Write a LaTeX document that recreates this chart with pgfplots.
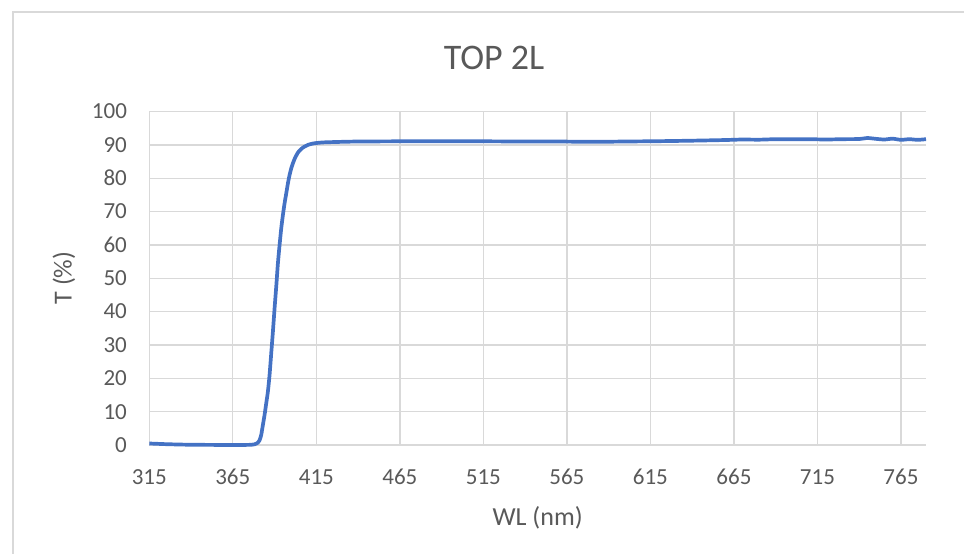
\documentclass[border=0pt]{standalone}
\usepackage{fontspec}
\setmainfont{Carlito}
\usepackage{pgfplots}
\pgfplotsset{compat=1.18}
\definecolor{gridgray}{HTML}{D9D9D9}
\definecolor{txtgray}{HTML}{595959}
\definecolor{lineblue}{HTML}{4472C4}

\begin{document}
\begin{tikzpicture}
  \useasboundingbox (0,0) rectangle (482pt,276.5pt);
  % chart area frame (cut off at right and bottom)
  \draw[gridgray, line width=0.75pt] (6.5pt,-20pt) -- (6.5pt,270.5pt) -- (520pt,270.5pt);

  \begin{axis}[
    at={(74.65pt,54pt)}, anchor=south west,
    scale only axis,
    width=388.35pt, height=166.75pt,
    xmin=315, xmax=780, ymin=0, ymax=100,
    xtick={315,365,...,765},
    ytick={0,10,...,100},
    grid=major,
    major grid style={gridgray, line width=0.65pt},
    axis line style={draw=none},
    major tick length=0pt,
    tick label style={font=\fontsize{11.5}{13}\selectfont, text=txtgray, inner sep=0pt},
    xticklabel style={anchor=center, yshift=-16pt},
    yticklabel style={anchor=east, xshift=-11pt},
    /pgf/number format/assume math mode=true,
    /pgf/number format/1000 sep={},
    clip=false,
  ]
  \addplot[lineblue, line width=1.85pt, smooth, tension=0.4] coordinates {
    (315,0.45) (320,0.35) (325,0.25) (330,0.18) (335,0.12) (340,0.08)
    (350,0.04) (360,0.02) (370,0.02) (375,0.05) (378,0.2) (380,0.7)
    (381,1.4) (382,3) (383,6) (384,9) (385,12.5) (386,16) (387,21)
    (388,27.5) (389,34) (390,41) (391,47.5) (392,54.5) (393,60) (394,65)
    (395,69) (396,72.5) (397,75.5) (398,78.5) (399,81) (400,83)
    (401,84.5) (402,85.8) (403,86.8) (404,87.7) (405,88.3) (407,89.2)
    (410,90) (413,90.4) (416,90.6) (420,90.75) (430,90.9) (440,91.0)
    (460,91.05) (480,91.1) (500,91.1) (520,91.05) (540,91.0) (560,91.0)
    (580,90.9) (600,91.0) (620,91.1) (640,91.25) (660,91.45) (670,91.6)
    (680,91.55) (690,91.7) (700,91.65) (710,91.7) (720,91.6) (730,91.7)
    (740,91.75) (745,92.05) (750,91.8) (755,91.6) (760,91.85) (765,91.5)
    (770,91.7) (775,91.5) (780,91.7)
  };
  \end{axis}

  \node[anchor=base, text=txtgray, font=\fontsize{18}{21}\selectfont] at (247pt,241.5pt) {TOP 2L};
  \node[anchor=base, text=txtgray, font=\fontsize{13}{15}\selectfont] at (268.8pt,14pt) {WL (nm)};
  \node[rotate=90, text=txtgray, font=\fontsize{13}{15}\selectfont] at (32pt,137.5pt) {T (\%)};
\end{tikzpicture}
\end{document}
